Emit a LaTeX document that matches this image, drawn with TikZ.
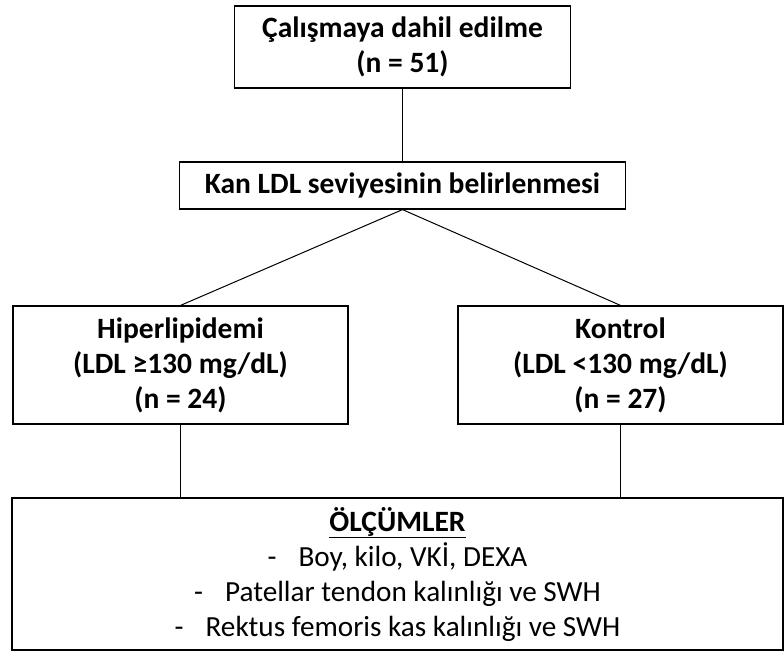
\documentclass[tikz,border=0pt]{standalone}
\usepackage{fontspec}
\setmainfont{Carlito}
\begin{document}
\begin{tikzpicture}[x=1pt,y=-1pt]
    \tikzstyle{every node}+=[inner sep=0pt]
    \tikzstyle{kutu}=[draw, line width=1.2pt, align=center, font=\bfseries\fontsize{29.5}{35}\selectfont]
    \tikzstyle{cizgi}=[line width=1pt]
    \useasboundingbox (0,0) rectangle (784,651);
    % boxes
    \node [kutu, minimum width=336pt, minimum height=82pt] (dahil) at (402.5,47) {Çalışmaya dahil edilme\\(n = 51)};
    \node [kutu, minimum width=446pt, minimum height=47pt] (ldl) at (402.5,185.5) {Kan LDL seviyesinin belirlenmesi};
    \node [kutu, minimum width=335pt, minimum height=118pt] (hiper) at (180.5,365) {Hiperlipidemi\\(LDL ≥130 mg/dL)\\(n = 24)};
    \node [kutu, minimum width=325pt, minimum height=118pt] (kontrol) at (620.5,365) {Kontrol\\(LDL <130 mg/dL)\\(n = 27)};
    \node [kutu, minimum width=771pt, minimum height=152pt] (olcum) at (397.5,574) {\underline{ÖLÇÜMLER}\\
        \normalfont\fontsize{29.2}{35}\selectfont -\hspace{22pt}Boy, kilo, VKİ, DEXA\\
        \normalfont\fontsize{29.2}{35}\selectfont -\hspace{22pt}Patellar tendon kalınlığı ve SWH\\
        \normalfont\fontsize{29.2}{35}\selectfont -\hspace{22pt}Rektus femoris kas kalınlığı ve SWH};
    % connectors
    \draw [cizgi] (dahil.south) -- (ldl.north);
    \draw [cizgi] (ldl.south) -- (hiper.north);
    \draw [cizgi] (ldl.south) -- (kontrol.north);
    \draw [cizgi] (hiper.south) -- (hiper.south |- olcum.north);
    \draw [cizgi] (kontrol.south) -- (kontrol.south |- olcum.north);
\end{tikzpicture}
\end{document}
